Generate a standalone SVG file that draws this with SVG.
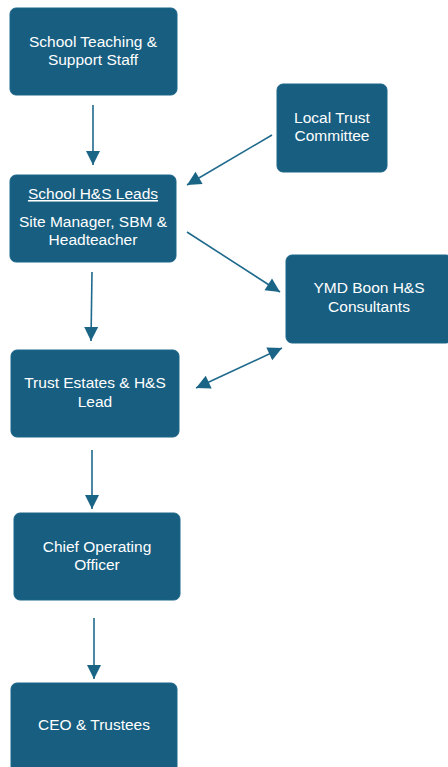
<svg xmlns="http://www.w3.org/2000/svg" width="448" height="767" viewBox="0 0 448 767">
<style>
.box{fill:#175e80;stroke:#1b6689;stroke-width:1}
.t{font-family:"Liberation Sans",Arial,sans-serif;font-size:15.5px;fill:#ffffff;text-anchor:middle}
.c{stroke:#1f6a8c;stroke-width:1.6;fill:none;marker-end:url(#ah)}
</style>
<defs>
<marker id="ah" markerUnits="userSpaceOnUse" markerWidth="18" markerHeight="18" viewBox="0 0 18 18" refX="16" refY="9" orient="auto-start-reverse">
<path d="M2,2 L16,9 L2,16 Z" fill="#1a6486"/>
</marker>
</defs>
<rect width="448" height="767" fill="#ffffff"/>
<g id="staff"><rect class="box" x="10" y="8" width="167" height="87" rx="6"/><text class="t" x="93" y="47">School Teaching &amp;</text><text class="t" x="93" y="65">Support Staff</text></g>
<g id="leads"><rect class="box" x="10" y="175" width="166" height="87" rx="6"/><text class="t" x="93" y="199" text-decoration="underline">School H&amp;S Leads</text><text class="t" x="93" y="227">Site Manager, SBM &amp;</text><text class="t" x="93" y="245">Headteacher</text></g>
<g id="ltc"><rect class="box" x="277" y="84" width="110" height="88" rx="6"/><text class="t" x="332" y="123">Local Trust</text><text class="t" x="332" y="141">Committee</text></g>
<g id="ymd"><rect class="box" x="286" y="255" width="166" height="88" rx="6"/><text class="t" x="369" y="293">YMD Boon H&amp;S</text><text class="t" x="369" y="312">Consultants</text></g>
<g id="estates"><rect class="box" x="11" y="350" width="168" height="87" rx="6"/><text class="t" x="95" y="388">Trust Estates &amp; H&amp;S</text><text class="t" x="95" y="407">Lead</text></g>
<g id="coo"><rect class="box" x="14" y="513" width="166" height="87" rx="6"/><text class="t" x="97" y="552">Chief Operating</text><text class="t" x="97" y="570">Officer</text></g>
<g id="ceo"><rect class="box" x="11" y="683" width="166" height="90" rx="6"/><text class="t" x="94" y="730">CEO &amp; Trustees</text></g>
<g id="connectors">
<line class="c" x1="93" y1="105" x2="93" y2="165"/>
<line class="c" x1="272" y1="135" x2="187" y2="185"/>
<line class="c" x1="187" y1="232" x2="280" y2="292"/>
<line class="c" x1="92" y1="272" x2="91" y2="341"/>
<line class="c" x1="196" y1="388" x2="282" y2="348" style="marker-start:url(#ah)"/>
<line class="c" x1="92" y1="450" x2="92" y2="509"/>
<line class="c" x1="94" y1="618" x2="94" y2="679"/>
</g>
</svg>
